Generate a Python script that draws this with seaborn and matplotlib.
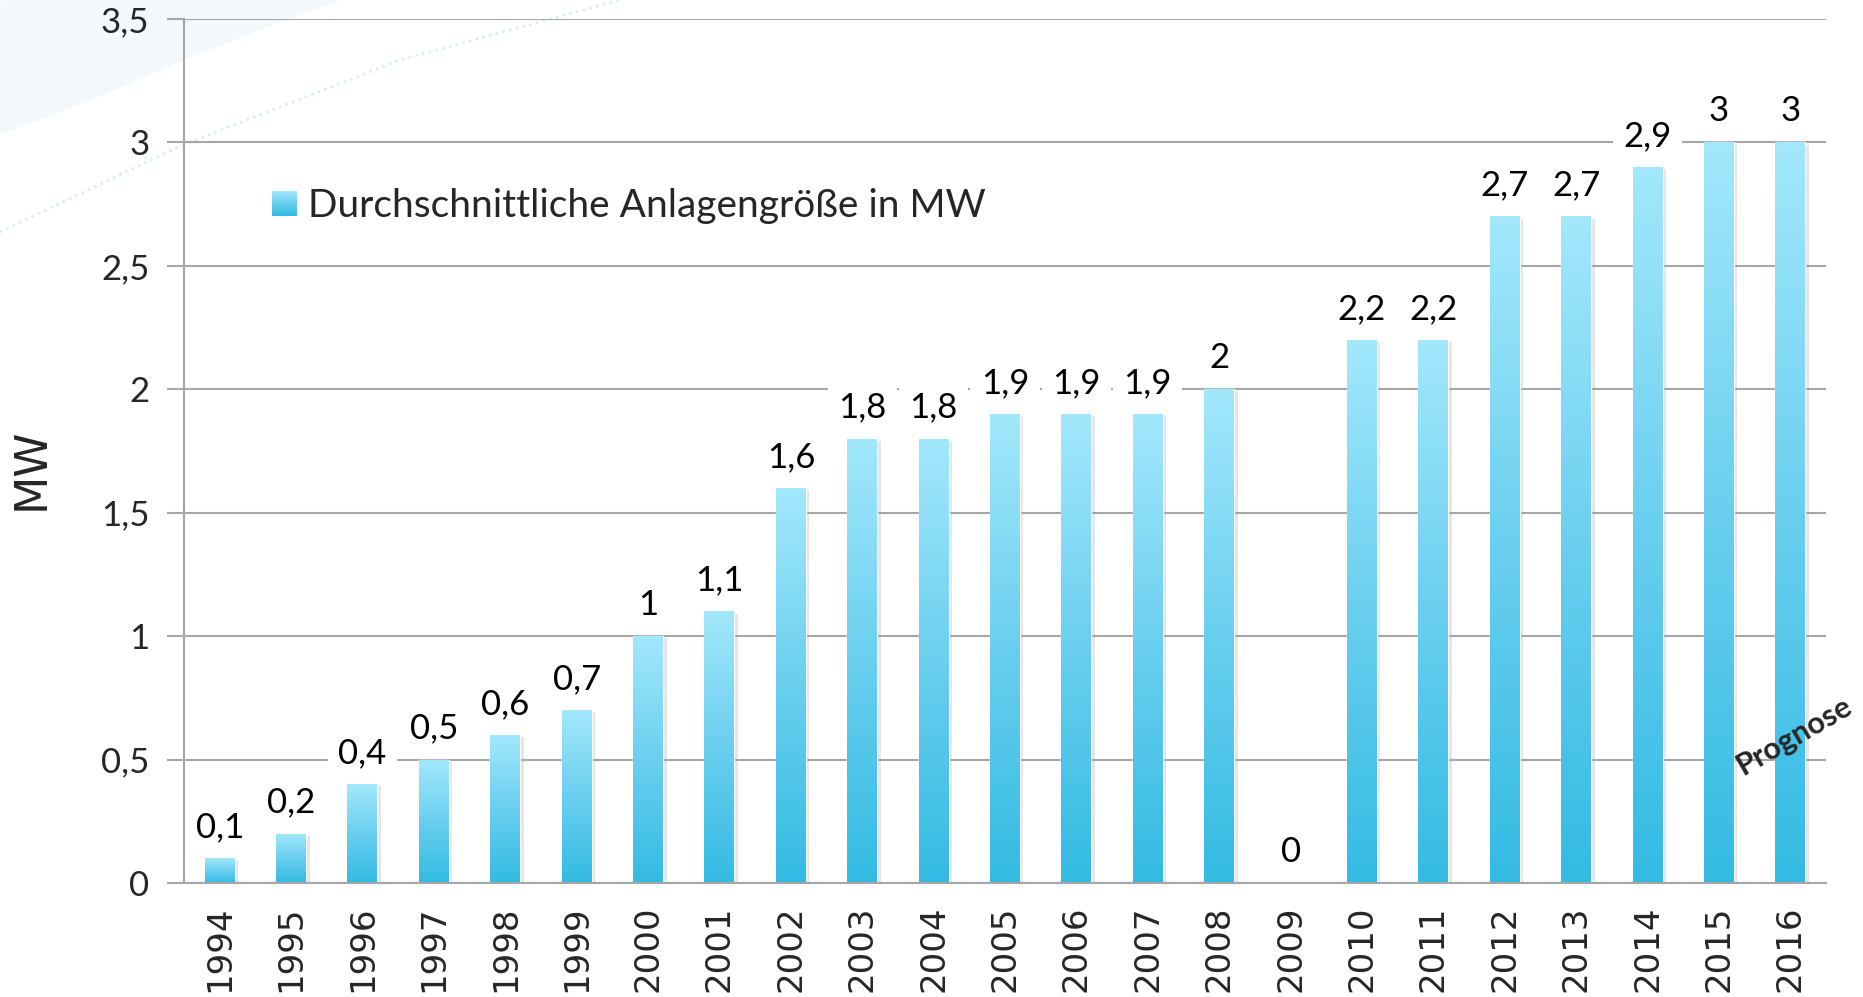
import numpy as np
import pandas as pd
import matplotlib
matplotlib.use("Agg")
import matplotlib.pyplot as plt
import seaborn as sns
from matplotlib.colors import LinearSegmentedColormap
from matplotlib.patches import Rectangle
from matplotlib.legend_handler import HandlerBase
import matplotlib.patheffects as pe

# ---- data ----
years = [str(y) for y in range(1994, 2017)]
values = [0.1, 0.2, 0.4, 0.5, 0.6, 0.7, 1.0, 1.1, 1.6, 1.8, 1.8, 1.9, 1.9, 1.9,
          2.0, 0.0, 2.2, 2.2, 2.7, 2.7, 2.9, 3.0, 3.0]
value_labels = ["0,1", "0,2", "0,4", "0,5", "0,6", "0,7", "1", "1,1", "1,6", "1,8",
                "1,8", "1,9", "1,9", "1,9", "2", "0", "2,2", "2,2", "2,7", "2,7",
                "2,9", "3", "3"]
y_ticks = [0, 0.5, 1, 1.5, 2, 2.5, 3, 3.5]
y_tick_labels = ["0", "0,5", "1", "1,5", "2", "2,5", "3", "3,5"]
legend_label = "Durchschnittliche Anlagengröße in MW"
y_label = "MW"
note_text = "Prognose"

# ---- style ----
sns.set_style("white")
GRAY = "#A6A6A6"
cmap = LinearSegmentedColormap.from_list("bar", ["#33BBE3", "#6ACFEF", "#A3E8FC"])

W, H = 1863, 997
fig = plt.figure(figsize=(W / 100, H / 100), dpi=100)

# background decoration (faint swoosh)
bg = fig.add_axes([0, 0, 1, 1], zorder=-5)
bg.set_axis_off()
bg.set_xlim(0, W)
bg.set_ylim(H, 0)
xs = np.linspace(0, 340, 60)
c1 = np.interp(xs, [0, 90, 187, 270, 340], [134, 100, 58, 25, 0])
bg.fill_between(xs, 0, c1, color="#F2F8FB", lw=0)
xs2 = np.linspace(0, 620, 80)
c2 = np.interp(xs2, [0, 178, 400, 620], [232, 147, 60, 0])
bg.plot(xs2, c2, color="#DCEEF3", lw=2, ls=(0, (1, 1.5)))

# main axes
L, R, T, B = 184, 1826, 19, 883
ax = fig.add_axes([L / W, (H - B) / H, (R - L) / W, (B - T) / H])
ax.patch.set_alpha(0)

df = pd.DataFrame({"Jahr": years, "MW": values})
sns.barplot(data=df, x="Jahr", y="MW", ax=ax, color="#5ACAEE",
            width=0.42, saturation=1, zorder=2)

grad = np.linspace(0, 1, 256).reshape(-1, 1)
for p in list(ax.patches):
    x0, y0 = p.get_x(), p.get_y()
    w, h = p.get_width(), p.get_height()
    if h <= 0:
        continue
    p.set_path_effects([pe.SimplePatchShadow(offset=(2.5, -1.5), shadow_rgbFace="#9A9A9A", alpha=0.25),
                        pe.Normal()])
    im = ax.imshow(grad, extent=[x0, x0 + w, y0, y0 + h], origin="lower",
                   aspect="auto", cmap=cmap, zorder=2.5, interpolation="bilinear")
    im.set_clip_path(p)

# data labels
for i, (v, s) in enumerate(zip(values, value_labels)):
    ax.text(i, v + 0.085, s, ha="center", va="baseline", fontsize=25,
            family="Lato", color="black", zorder=4,
            bbox=dict(boxstyle="square,pad=0.3", fc="white", ec="none"))

ax.set_xlim(-0.5, len(years) - 0.5)
ax.set_ylim(0, 3.5)
ax.set_xlabel("")
ax.set_ylabel("")

# grid & spines
ax.set_axisbelow(True)
ax.yaxis.grid(True, color=GRAY, lw=1.5)
ax.xaxis.grid(False)
for sname in ["top", "right"]:
    ax.spines[sname].set_visible(False)
for sname in ["left", "bottom"]:
    ax.spines[sname].set_color(GRAY)
    ax.spines[sname].set_linewidth(1.5)

# ticks
ax.set_xticks(range(len(years)), labels=years)
ax.set_xticks(np.arange(-0.5, len(years), 1), minor=True)
ax.tick_params(axis="x", which="major", length=0, pad=16, labelsize=24.5, labelrotation=90)
ax.tick_params(axis="x", which="minor", length=14, width=1.5, color=GRAY, direction="out")
for lbl in ax.get_xticklabels():
    lbl.set_fontfamily("DejaVu Sans")
    lbl.set_va("top")
    lbl.set_ha("center")

ax.set_yticks(y_ticks, labels=y_tick_labels)
ax.tick_params(axis="y", which="major", left=True, length=12, width=1.5, color=GRAY,
               direction="out", pad=13, labelsize=25)
for lbl in ax.get_yticklabels():
    lbl.set_fontfamily("Lato")

fig.text(31 / W, 1 - 469 / H, y_label, rotation=90, ha="center", va="center",
         fontsize=32, family="DejaVu Sans")

# legend with gradient handle
class GradHandler(HandlerBase):
    def create_artists(self, legend, orig_handle, xdescent, ydescent, width,
                       height, fontsize, trans):
        n = 40
        arts = []
        for k in range(n):
            r = Rectangle((-xdescent, -ydescent + height * k / n), width,
                          height / n * 1.1, facecolor=cmap(k / (n - 1)),
                          edgecolor="none", transform=trans)
            arts.append(r)
        return arts

ax.legend(handles=[Rectangle((0, 0), 1, 1)], labels=[legend_label],
          handler_map={Rectangle: GradHandler()}, loc="center left",
          bbox_to_anchor=((272 - L) / (R - L), (B - 206) / (B - T)),
          frameon=False, borderpad=0, borderaxespad=0,
          handlelength=0.64, handleheight=0.62, handletextpad=0.28,
          prop={"family": "Lato", "size": 28})

ax.text(22.06, 0.595, note_text, rotation=30, rotation_mode="anchor",
        ha="center", va="center", fontsize=22, fontweight="bold",
        family="Lato", zorder=5)

fig.savefig("out.png", dpi=100)
